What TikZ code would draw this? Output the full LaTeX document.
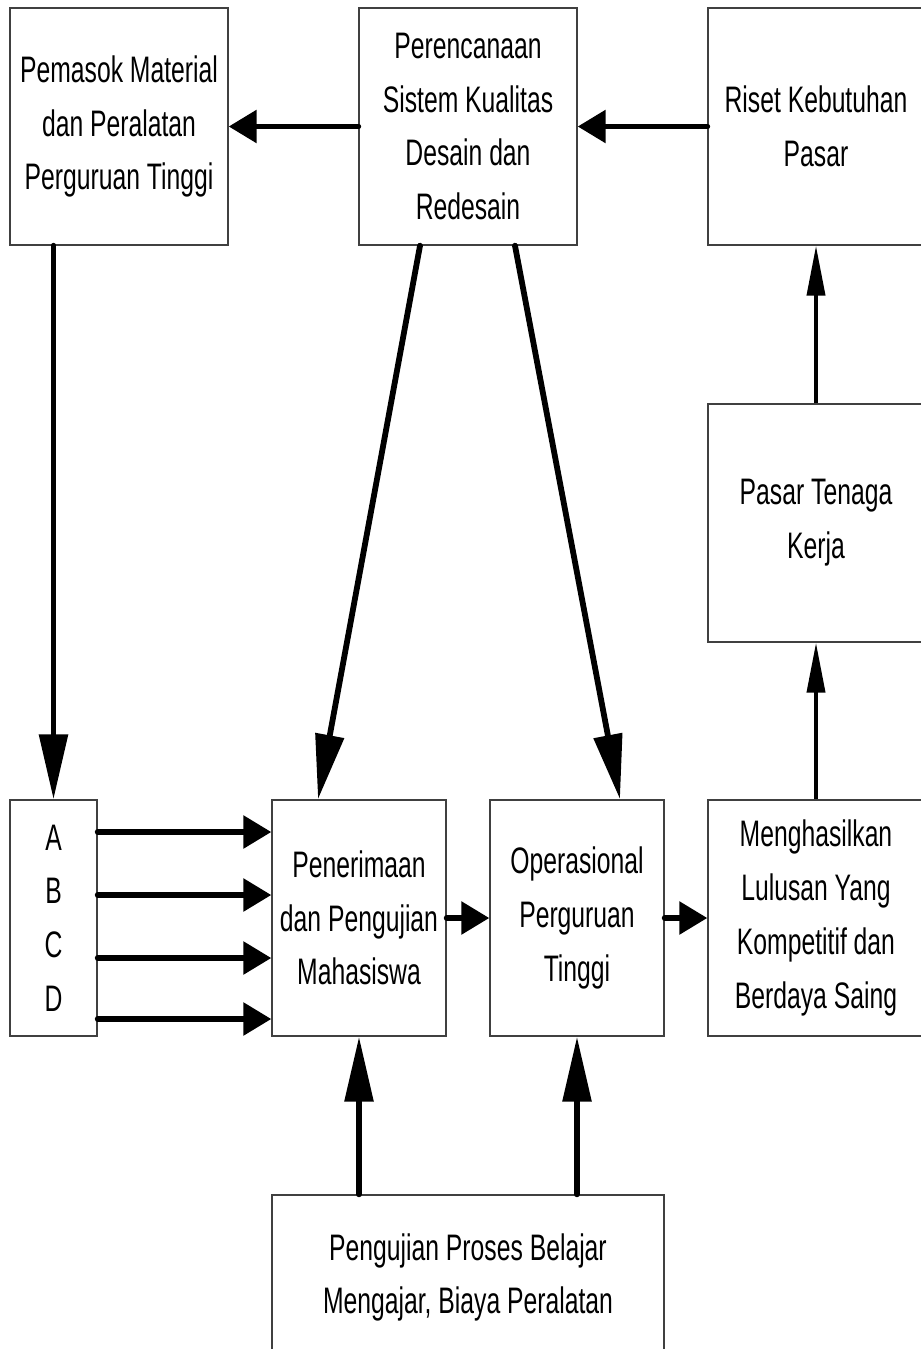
\documentclass[tikz,border=0pt]{standalone}
\usepackage{fontspec}
\setmainfont[FakeStretch=0.67]{Liberation Sans}
\usetikzlibrary{arrows.meta}
\tikzset{
    kotak/.style={draw=black!75, line width=0.8pt, inner sep=0pt, align=center,
        font=\fontsize{21}{30.6}\selectfont},
    panahpendek/.style={line width=3.3pt, line cap=round, -{Triangle[length=0.56cm,width=0.64cm]}},
    panahpanjang/.style={line width=3.3pt, line cap=round, -{Triangle[length=1.3cm,width=0.56cm]}},
    panahtipis/.style={line width=2.2pt, -{Triangle[length=1cm,width=0.36cm]}}
}
\begin{document}
\begin{tikzpicture}[x=0.02cm, y=-0.02cm]
        \useasboundingbox (0,0) rectangle (920,1349);

        %boxes in the top row
        \node[kotak, minimum width=4.36cm, minimum height=4.74cm] (pemasok) at (119,126.5) {Pemasok Material\\dan Peralatan\\Perguruan Tinggi};
        \node[kotak, minimum width=4.36cm, minimum height=4.74cm] (rencana) at (468,126.5) {Perencanaan\\Sistem Kualitas\\Desain dan\\Redesain};
        \node[kotak, minimum width=4.32cm, minimum height=4.74cm] (riset) at (816,126.5) {Riset Kebutuhan\\Pasar};
        \node[kotak, minimum width=4.32cm, minimum height=4.76cm] (pasar) at (816,523) {Pasar Tenaga\\Kerja};

        %boxes in the middle row
        \node[kotak, minimum width=1.74cm, minimum height=4.72cm] (abcd) at (53.5,918) {A\\B\\C\\D};
        \node[kotak, minimum width=3.48cm, minimum height=4.72cm] (terima) at (359,918) {Penerimaan\\dan Pengujian\\Mahasiswa};
        \node[kotak, minimum width=3.48cm, minimum height=4.72cm] (operasi) at (577,918) {Operasional\\Perguruan\\Tinggi};
        \node[kotak, minimum width=4.32cm, minimum height=4.72cm] (lulusan) at (816,918) {Menghasilkan\\Lulusan Yang\\Kompetitif dan\\Berdaya Saing};

        %box at the bottom
        \node[kotak, minimum width=7.84cm, minimum height=3.3cm] (uji) at (468,1277.5) {Pengujian Proses Belajar\\Mengajar, Biaya Peralatan};

        %arrows
        \draw[panahpendek] (rencana.west) -- (pemasok.east);
        \draw[panahpendek] (riset.west) -- (rencana.east);
        \draw[panahpanjang] (pemasok.south -| abcd.north) -- (abcd.north);
        \draw[panahpanjang] ([xshift=-0.96cm]rencana.south) -- ([xshift=-0.82cm]terima.north);
        \draw[panahpanjang] ([xshift=0.94cm]rencana.south) -- ([xshift=0.86cm]operasi.north);
        \foreach \y in {832,895,958,1019}
            \draw[panahpendek] (abcd.east |- 0,\y) -- (terima.west |- 0,\y);
        \draw[panahpendek] (terima.east) -- (operasi.west);
        \draw[panahpendek] (operasi.east) -- (lulusan.west);
        \draw[panahpanjang] (uji.north -| terima.south) -- (terima.south);
        \draw[panahpanjang] (uji.north -| operasi.south) -- (operasi.south);
        \draw[panahtipis] (lulusan.north) -- (pasar.south);
        \draw[panahtipis] (pasar.north) -- (riset.south);
    \end{tikzpicture}
\end{document}
